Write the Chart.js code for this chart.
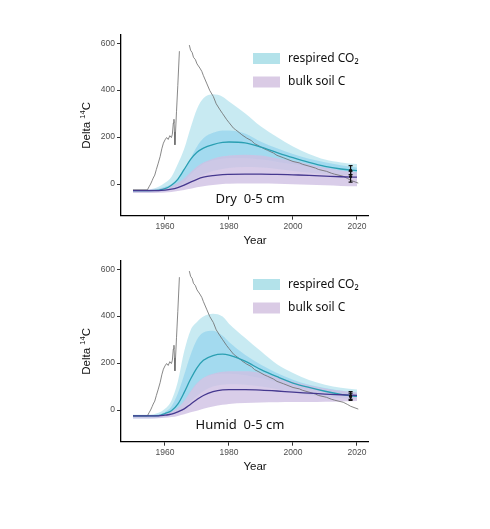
<!DOCTYPE html>
<html>
<head>
<meta charset="utf-8">
<script src="https://cdn.jsdelivr.net/npm/chart.js@4.4.1/dist/chart.umd.min.js"></script>
<style>
  body { margin: 0; background: #fff; }
  canvas { position: absolute; left: 0; }
  #dry-graph { top: 0; }
  #humid-graph { top: 250px; }
</style>
</head>
<body>
<canvas id="dry-graph" width="490" height="250"></canvas>
<canvas id="humid-graph" width="490" height="279"></canvas>
<script>
// model output years
const modelYears = [1950, 1955, 1958, 1960, 1962, 1964, 1966, 1968, 1970, 1972, 1975, 1978, 1980, 1985, 1990, 1995, 2000, 2005, 2010, 2015, 2020];

// Dry 0-5 cm
const dryRespMean    = [-28, -28, -26, -20, -5, 20, 62, 105, 135, 153, 168, 177, 179, 175, 157, 134, 112, 92, 75, 64, 57];
const dryRespOuterHi = [-22, -22, -12, 5, 30, 85, 150, 240, 320, 365, 382, 372, 352, 302, 245, 200, 160, 128, 104, 92, 85];
const dryRespOuterLo = [-36, -36, -34, -31, -25, -16, -4, 12, 28, 40, 55, 64, 68, 72, 70, 64, 56, 48, 42, 38, 35];
const dryRespInnerHi = [-25, -25, -20, -12, 0, 25, 65, 110, 160, 195, 218, 228, 228, 215, 180, 152, 128, 108, 93, 80, 70];
const dryRespInnerLo = [-31, -31, -30, -27, -20, -8, 10, 40, 65, 85, 100, 108, 110, 110, 104, 94, 84, 74, 64, 55, 48];
const dryBulkMean    = [-28, -28, -28, -26, -22, -15, -5, 8, 20, 29, 36, 40, 41, 42, 42, 41, 39, 37, 34, 31, 29];
const dryBulkHi      = [-22, -22, -20, -16, -8, 5, 25, 50, 75, 92, 108, 118, 122, 125, 122, 110, 98, 84, 70, 58, 50];
const dryBulkLo      = [-38, -38, -37, -36, -34, -30, -25, -20, -14, -9, -4, 0, 1, 2, 2, 1, -1, -3, -5, -8, -10];

// Humid 0-5 cm
const humRespMean    = [-25, -25, -24, -15, -3, 25, 75, 132, 180, 212, 232, 238, 234, 208, 172, 142, 115, 96, 80, 67, 58];
const humRespOuterHi = [-20, -20, -12, 5, 40, 120, 250, 340, 375, 398, 410, 398, 368, 308, 250, 195, 158, 128, 108, 95, 87];
const humRespOuterLo = [-36, -36, -34, -30, -22, -10, 10, 35, 60, 80, 100, 108, 110, 108, 100, 88, 75, 64, 56, 50, 46];
const humRespInnerHi = [-22, -22, -18, -8, 15, 70, 150, 235, 300, 330, 338, 316, 290, 236, 193, 158, 129, 108, 94, 82, 73];
const humRespInnerLo = [-30, -30, -28, -22, -12, 5, 35, 75, 110, 135, 150, 155, 155, 148, 135, 118, 100, 86, 75, 66, 60];
const humBulkMean    = [-25, -25, -25, -22, -18, -8, 5, 25, 45, 62, 78, 86, 87, 87, 85, 81, 76, 72, 68, 65, 62];
const humBulkHi      = [-22, -22, -20, -14, -5, 10, 40, 80, 115, 138, 155, 163, 165, 165, 158, 140, 122, 106, 92, 82, 75];
const humBulkLo      = [-36, -36, -35, -33, -30, -25, -18, -10, -3, 5, 15, 22, 26, 30, 32, 33, 34, 34, 35, 36, 38];

// atmospheric record (values outside -100..600 dropped)
const atmYears  = [1950, 1954.5, 1955, 1955.5, 1956, 1956.3, 1956.8, 1957.3, 1957.9, 1958.5, 1959, 1959.5, 1960, 1960.5, 1961, 1961.5, 1962, 1962.3, 1962.6, 1962.8, 1962.95, 1963.1, 1963.6, 1964, 1964.5, 1966, 1967.6, 1968, 1968.5, 1968.9, 1969.5, 1970, 1970.9, 1971.5, 1972, 1973, 1974, 1975.1, 1976, 1977.2, 1978, 1979.3, 1980, 1981.4, 1982, 1983.4, 1984, 1985.5, 1987, 1988, 1989.7, 1991, 1992, 1993.9, 1995, 1997, 2000, 2002, 2003, 2005.3, 2007, 2008, 2010.5, 2012, 2013, 2015.7, 2017, 2018, 2020.4];
const atmValues = [-25, -25, -12, 0, 15, 25, 38, 62, 89, 118, 150, 174, 188, 198, 190, 206, 198, 212, 260, 276, 222, 167, 310, 420, 566, null, 592, 570, 560, 540, 530, 512, 494, 480, 462, 430, 398, 373, 342, 316, 300, 274, 262, 238, 232, 217, 210, 196, 185, 172, 160, 150, 144, 132, 122, 112, 96, 90, 84, 75, 68, 62, 54, 46, 42, 33, 24, 16, 4];

// 2018 measurements: [respired CO2, bulk soil C]
const obsYear = 2018;
const dryObsMean = [58, 32];
const dryObsLow  = [40, 8];
const dryObsHigh = [78, 55];
const humObsMean = [60, 58];
const humObsLow  = [45, 41];
const humObsHigh = [79, 72];

const xTicks = [1960, 1980, 2000, 2020];
const yTicks = [0, 200, 400, 600];
const legendLabels = ['respired CO\u2082', 'bulk soil C'];

const pts = (xs, ys) => xs.map((x, i) => ({ x: x, y: ys[i] }));

function band(hi, lo, color) {
  return [
    { data: pts(modelYears, hi), fill: '+1', backgroundColor: color, borderWidth: 0, pointRadius: 0, cubicInterpolationMode: 'monotone' },
    { data: pts(modelYears, lo), fill: false, borderWidth: 0, pointRadius: 0, cubicInterpolationMode: 'monotone' }
  ];
}

// text, legend, error bars
const decor = {
  id: 'decor',
  afterDatasetsDraw(chart, args, opts) {
    const c = chart.ctx, a = chart.chartArea;
    const xs = chart.scales.x, ys = chart.scales.y;
    c.save();
    // error bars
    c.strokeStyle = '#111';
    c.fillStyle = '#111';
    c.lineWidth = 1.2;
    opts.obsMean.forEach((m, i) => {
      const x = xs.getPixelForValue(obsYear);
      const lo = ys.getPixelForValue(opts.obsLow[i]);
      const hi = ys.getPixelForValue(opts.obsHigh[i]);
      c.beginPath();
      c.moveTo(x, lo); c.lineTo(x, hi);
      c.moveTo(x - 2, lo); c.lineTo(x + 2, lo);
      c.moveTo(x - 2, hi); c.lineTo(x + 2, hi);
      c.stroke();
      c.beginPath();
      c.arc(x, ys.getPixelForValue(m), 1.6, 0, Math.PI * 2);
      c.fill();
    });
    // legend
    const sw = ['#b3e2ea', '#dacbe5'];
    c.font = '12px "Noto Sans"';
    c.textBaseline = 'middle';
    c.textAlign = 'left';
    legendLabels.forEach((t, i) => {
      const top = a.top + 18 + i * 23.5;
      c.fillStyle = sw[i];
      c.fillRect(253, top, 27, 11);
      c.fillStyle = '#111';
      c.fillText(t, 288, top + 5.5);
    });
    // panel label
    c.font = '13px "Noto Sans"';
    c.textAlign = 'center';
    c.fillText(opts.label, opts.labelX, a.bottom - 16);
    // x title
    c.font = '11.5px "Liberation Sans"';
    c.fillText('Year', 255, a.bottom + 25);
    // y title with superscript
    c.translate(87, (a.top + a.bottom) / 2);
    c.rotate(-Math.PI / 2);
    const big = '11.5px "Liberation Sans"', small = '7.5px "Liberation Sans"';
    c.font = big; const w1 = c.measureText('Delta ').width, w3 = c.measureText('C').width;
    c.font = small; const w2 = c.measureText('14').width;
    let x0 = -(w1 + w2 + w3) / 2;
    c.textAlign = 'left';
    c.font = big; c.fillText('Delta ', x0, 0);
    c.font = small; c.fillText('14', x0 + w1, -4);
    c.font = big; c.fillText('C', x0 + w1 + w2, 0);
    c.restore();
  }
};

function makeChart(el, s, pad) {
  return new Chart(document.getElementById(el), {
    type: 'line',
    data: {
      datasets: [
        { data: pts(modelYears, s.bulkMean), borderColor: '#45388f', borderWidth: 1.3, pointRadius: 0, fill: false, cubicInterpolationMode: 'monotone' },
        { data: pts(modelYears, s.respMean), borderColor: '#2a9fb2', borderWidth: 1.3, pointRadius: 0, fill: false, cubicInterpolationMode: 'monotone' },
        { data: pts(atmYears, atmValues), borderColor: '#6a6a6a', borderWidth: 0.8, pointRadius: 0, fill: false, spanGaps: false },
        ...band(s.bulkHi, s.bulkLo, 'rgba(208,192,228,0.8)'),
        ...band(s.innerHi, s.innerLo, 'rgba(120,200,235,0.45)'),
        ...band(s.outerHi, s.outerLo, 'rgba(150,215,230,0.52)')
      ]
    },
    options: {
      responsive: false,
      animation: false,
      layout: { padding: pad },
      plugins: {
        legend: { display: false },
        tooltip: { enabled: false },
        decor: { label: s.label, labelX: s.labelX, obsMean: s.obsMean, obsLow: s.obsLow, obsHigh: s.obsHigh }
      },
      scales: {
        x: {
          type: 'linear', min: 1946.25, max: 2023.44,
          afterBuildTicks: ax => { ax.ticks = xTicks.map(v => ({ value: v })); },
          afterFit: ax => { ax.height = 34.3; },
          ticks: { callback: v => String(v), color: '#4d4d4d', font: { family: 'Liberation Sans', size: 8.5 }, padding: 2, maxRotation: 0 },
          grid: { drawOnChartArea: false, drawTicks: true, tickLength: 4, color: '#333' },
          border: { display: true, color: '#000', width: 1.3 }
        },
        y: {
          min: -135, max: 635,
          afterBuildTicks: ax => { ax.ticks = yTicks.map(v => ({ value: v })); },
          afterFit: ax => { ax.width = 121; },
          ticks: { color: '#4d4d4d', font: { family: 'Liberation Sans', size: 8.5 }, padding: 2 },
          grid: { drawOnChartArea: false, drawTicks: true, tickLength: 4, color: '#333' },
          border: { display: true, color: '#000', width: 1.3 }
        }
      }
    },
    plugins: [decor]
  });
}

makeChart('dry-graph', {
  label: 'Dry  0-5 cm', labelX: 250,
  respMean: dryRespMean, outerHi: dryRespOuterHi, outerLo: dryRespOuterLo, innerHi: dryRespInnerHi, innerLo: dryRespInnerLo,
  bulkMean: dryBulkMean, bulkHi: dryBulkHi, bulkLo: dryBulkLo,
  obsMean: dryObsMean, obsLow: dryObsLow, obsHigh: dryObsHigh
}, { top: 35, right: 122, bottom: 0, left: 0 });

makeChart('humid-graph', {
  label: 'Humid  0-5 cm', labelX: 240,
  respMean: humRespMean, outerHi: humRespOuterHi, outerLo: humRespOuterLo, innerHi: humRespInnerHi, innerLo: humRespInnerLo,
  bulkMean: humBulkMean, bulkHi: humBulkHi, bulkLo: humBulkLo,
  obsMean: humObsMean, obsLow: humObsLow, obsHigh: humObsHigh
}, { top: 11, right: 122, bottom: 53, left: 0 });
</script>
</body>
</html>
